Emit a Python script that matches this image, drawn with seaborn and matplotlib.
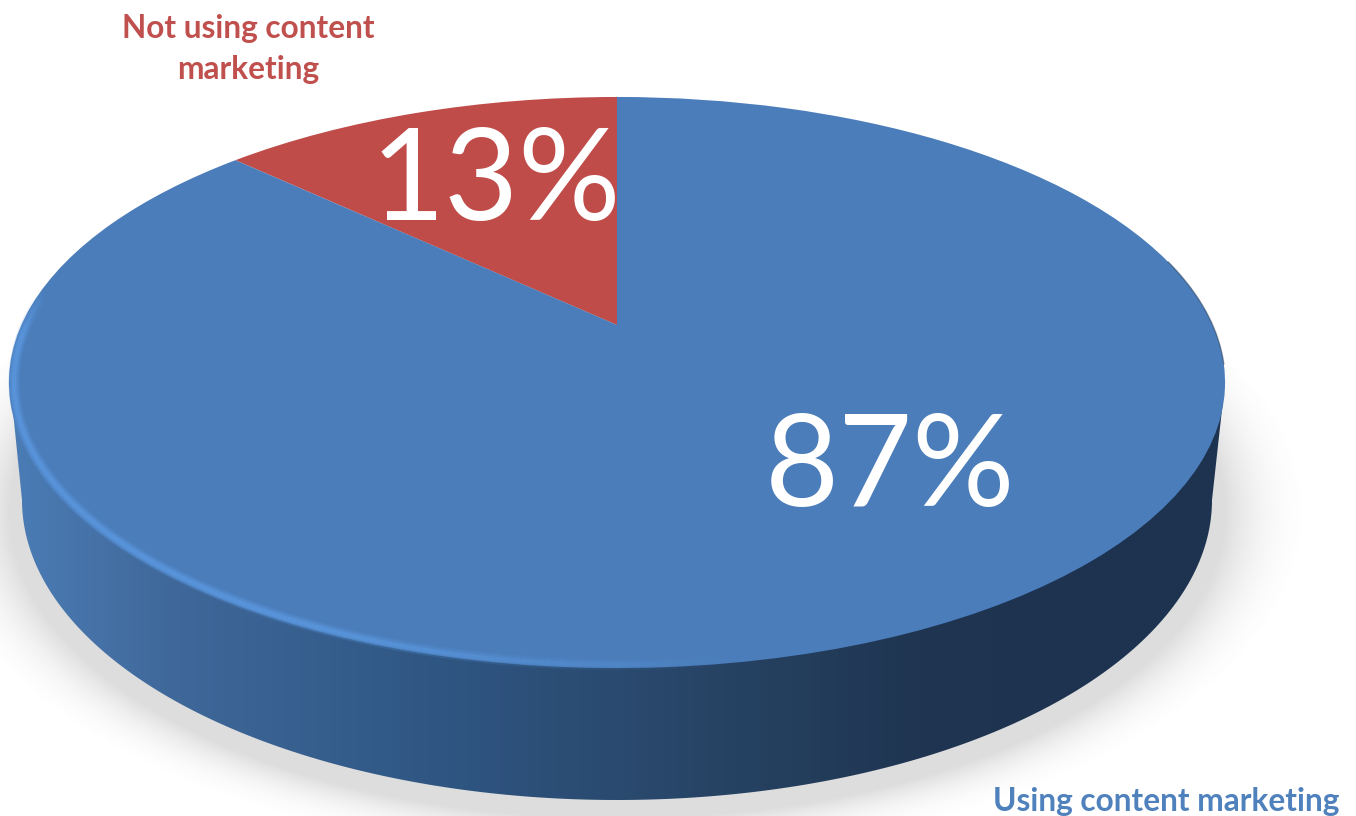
import numpy as np
import matplotlib
matplotlib.use("Agg")
import matplotlib.pyplot as plt
import seaborn as sns
from matplotlib.collections import LineCollection
from matplotlib.patches import Polygon
from matplotlib.transforms import Transform

shares = [13, 87]
slice_colors = ["#bf4c49", "#4b7dba"]
wall_colors = ["#4b7cb5", "#40699b", "#365f8e", "#2e5480", "#2a4a6f",
               "#25405f", "#1f3552", "#1d3350", "#1d3350"]
label_not_using = "Not using content\nmarketing"
label_using = "Using content marketing"

W, H = 1356, 816

sns.set_theme(style="white")
plt.rcParams["font.family"] = ["Lato", "DejaVu Sans"]


def tilt_xy(u, v):
    # unit circle -> top face of the disc, seen in perspective (pixel coords)
    d = 1 + 0.2014 * v
    return 617 + 595.6 * u / d, (325 - 208.5 * v) / d


class Tilt(Transform):
    input_dims = 2
    output_dims = 2

    def transform_non_affine(self, values):
        x, y = tilt_xy(values[:, 0], values[:, 1])
        return np.column_stack([x, y])


fig = plt.figure(figsize=(W / 100, H / 100), dpi=100)
ax = fig.add_axes([0, 0, 1, 1])

# soft shadow under the disc
yy, xx = np.mgrid[0:H, 0:W]
r = np.hypot((xx - 617) / 640, (yy - 512) / 322)
shadow = np.zeros((H, W, 4))
shadow[..., :3] = 0.5
shadow[..., 3] = np.clip((1.09 - r) / 0.14, 0, 1) ** 2.2 * 0.26
ax.imshow(shadow, extent=(0, W, H, 0), aspect="auto", zorder=0)

# side wall
t = np.radians(np.linspace(180, 360, 200))
wall_x = 617 + 595 * np.cos(t)
wall_y = 500 - 300 * np.sin(t)
wall_pts = np.column_stack([
    np.r_[10, wall_x, 1225],
    np.r_[382, wall_y, 382],
])
wall = Polygon(wall_pts, closed=True, facecolor="none", edgecolor="none",
               transform=ax.transData)
ax.add_patch(wall)
ramp = np.array(sns.blend_palette(wall_colors, n_colors=300))[np.newaxis, :, :3]
img = ax.imshow(ramp, extent=(10, 1225, 800, 382), aspect="auto", zorder=1,
                interpolation="bilinear")
img.set_clip_path(wall)

# top face
wedges, _ = ax.pie(shares, colors=slice_colors, startangle=90, counterclock=True,
                   wedgeprops={"linewidth": 0})
for w in wedges:
    w.set_transform(Tilt() + ax.transData)
    w.set_zorder(2)

# bevel on the rim, bright lower left, dark upper right
a = np.radians(np.linspace(172, 300, 260))
rx, ry = tilt_xy(0.992 * np.cos(a), 0.992 * np.sin(a))
pts = np.column_stack([rx, ry]).reshape(-1, 1, 2)
segs = np.concatenate([pts[:-1], pts[1:]], axis=1)
deg = np.degrees(a[:-1])
fade = np.clip((280 - deg) / 35, 0, 1) * np.clip((deg - 172) / 10, 0, 1)
for lw, strength in [(8, 0.25), (5.5, 0.35), (3, 0.6)]:
    cols = np.tile(matplotlib.colors.to_rgba("#5c9ae2"), (len(segs), 1))
    cols[:, 3] = fade * strength
    ax.add_collection(LineCollection(segs, colors=cols, linewidths=lw, capstyle="butt", zorder=3))

a = np.radians(np.linspace(-8, 14, 60))
rx, ry = tilt_xy(np.cos(a), np.sin(a))
ax.plot(rx, ry, color="#1d3350", lw=1.0, alpha=0.5, zorder=3)

ax.text(496, 184, f"{shares[0]}%", color="white", fontsize=92, ha="center", va="center", zorder=4)
ax.text(890, 470, f"{shares[1]}%", color="white", fontsize=92, ha="center", va="center", zorder=4)
ax.text(248, 49, label_not_using, color="#c0504d", fontsize=22.8, fontweight="bold",
        ha="center", va="center", linespacing=1.46, zorder=4)
ax.text(1166, 801, label_using, color="#4f81bd", fontsize=22.8, fontweight="bold",
        ha="center", va="center", zorder=4)

ax.set_aspect("auto")
ax.set_xlim(0, W)
ax.set_ylim(H, 0)
ax.axis("off")

fig.savefig("out.png", dpi=100, facecolor="white")
